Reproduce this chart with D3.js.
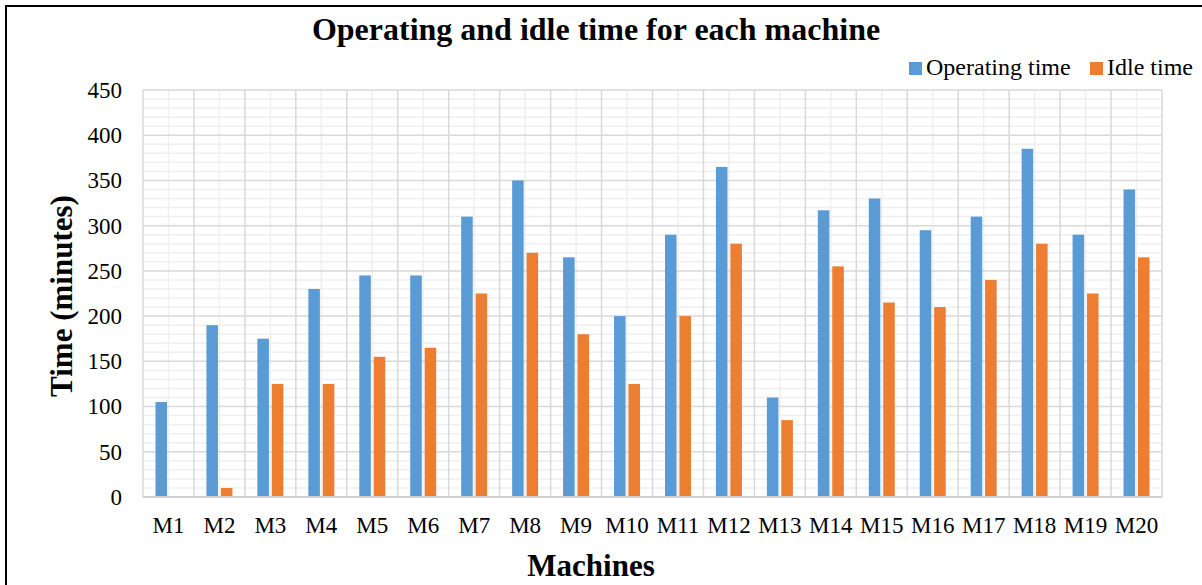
<!DOCTYPE html>
<html>
<head>
<meta charset="utf-8">
<script src="https://cdn.jsdelivr.net/npm/d3@7"></script>
<style>
  html, body { margin: 0; padding: 0; background: #fff; }
  svg { display: block; font-family: "Liberation Serif", "Times New Roman", serif; }
</style>
</head>
<body>
<svg id="chart" width="1202" height="585"></svg>
<script>
const categories = ["M1","M2","M3","M4","M5","M6","M7","M8","M9","M10","M11","M12","M13","M14","M15","M16","M17","M18","M19","M20"];
const operatingTime = [105,190,175,230,245,245,310,350,265,200,290,365,110,317,330,295,310,385,290,340];
const idleTime = [0,10,125,125,155,165,225,270,180,125,200,280,85,255,215,210,240,280,225,265];
const seriesNames = ["Operating time","Idle time"];
const seriesColors = ["#5b9bd5","#ed7d31"];
const yTicks = [0,50,100,150,200,250,300,350,400,450];

const svg = d3.select("#chart");
const L = 143, R = 1162, T = 90, B = 497;

// frame
svg.append("line").attr("x1",5).attr("x2",1202).attr("y1",6).attr("y2",6).attr("stroke","#000").attr("stroke-width",2);
svg.append("line").attr("x1",6).attr("x2",6).attr("y1",5).attr("y2",585).attr("stroke","#000").attr("stroke-width",2);

const y = d3.scaleLinear().domain([0,450]).range([B,T]);
const x0 = d3.scaleBand().domain(categories).range([L,R]).paddingInner(0.49).paddingOuter(0.245);
const x1 = d3.scaleBand().domain(seriesNames).range([0,x0.bandwidth()]).paddingInner(0.2);
const step = x0.step();

const grid = svg.append("g");
// minor horizontal
grid.selectAll(".hmin").data(d3.range(0,451,10).filter(v => v % 50 !== 0)).enter().append("line")
  .attr("x1",L).attr("x2",R).attr("y1",d=>y(d)).attr("y2",d=>y(d))
  .attr("stroke","#efefef").attr("stroke-width",1.5);
// minor vertical (category centres)
grid.selectAll(".vmin").data(categories).enter().append("line")
  .attr("x1",d=>x0(d)+x0.bandwidth()/2).attr("x2",d=>x0(d)+x0.bandwidth()/2).attr("y1",T).attr("y2",B)
  .attr("stroke","#efefef").attr("stroke-width",1.5);
// major horizontal
grid.selectAll(".hmaj").data(yTicks).enter().append("line")
  .attr("x1",L).attr("x2",R).attr("y1",d=>y(d)).attr("y2",d=>y(d))
  .attr("stroke","#d9d9d9").attr("stroke-width",1.5);
// major vertical (category boundaries)
grid.selectAll(".vmaj").data(d3.range(0,categories.length+1)).enter().append("line")
  .attr("x1",i=>L+i*step).attr("x2",i=>L+i*step).attr("y1",T).attr("y2",B)
  .attr("stroke","#d9d9d9").attr("stroke-width",1.5);

// bars
const data = categories.map((c,i)=>({cat:c, vals:[operatingTime[i], idleTime[i]]}));
const groups = svg.append("g").selectAll("g").data(data).enter().append("g")
  .attr("transform", d=>`translate(${x0(d.cat)},0)`);
groups.selectAll("rect").data(d=>d.vals.map((v,j)=>({v, s:seriesNames[j], c:seriesColors[j]}))).enter()
  .append("rect")
  .attr("x", d=>x1(d.s)).attr("width", x1.bandwidth())
  .attr("y", d=>y(d.v)).attr("height", d=>B - y(d.v))
  .attr("fill", d=>d.c);

// bottom axis line
svg.append("line").attr("x1",L).attr("x2",R).attr("y1",B).attr("y2",B).attr("stroke","#d0d0d0").attr("stroke-width",2);

// y tick labels
const yAxis = svg.append("g").attr("transform",`translate(${L},0)`)
  .call(d3.axisLeft(y).tickValues(yTicks).tickSize(0).tickPadding(21));
yAxis.select(".domain").remove();
yAxis.selectAll("text").attr("font-size",23).attr("fill","#000").attr("font-family","Liberation Serif");

// x tick labels
const xAxis = svg.append("g").attr("transform",`translate(0,${B})`)
  .call(d3.axisBottom(x0).tickSize(0).tickPadding(20));
xAxis.select(".domain").remove();
xAxis.selectAll("text").attr("font-size",23).attr("fill","#000").attr("font-family","Liberation Serif");

// title
svg.append("text").attr("x",596).attr("y",40).attr("text-anchor","middle")
  .attr("font-size",32).attr("font-weight","bold").text("Operating and idle time for each machine");

// axis titles
svg.append("text").attr("transform","translate(72,296) rotate(-90)").attr("text-anchor","middle")
  .attr("font-size",31).attr("font-weight","bold").text("Time (minutes)");
svg.append("text").attr("x",591).attr("y",576).attr("text-anchor","middle")
  .attr("font-size",31).attr("font-weight","bold").text("Machines");

// legend
const legendX = [909, 1090];
const leg = svg.append("g");
seriesNames.forEach((s,i)=>{
  leg.append("rect").attr("x",legendX[i]).attr("y",62).attr("width",13).attr("height",13).attr("fill",seriesColors[i]);
  leg.append("text").attr("x",legendX[i]+17).attr("y",75).attr("font-size",24).text(s);
});
</script>
</body>
</html>
